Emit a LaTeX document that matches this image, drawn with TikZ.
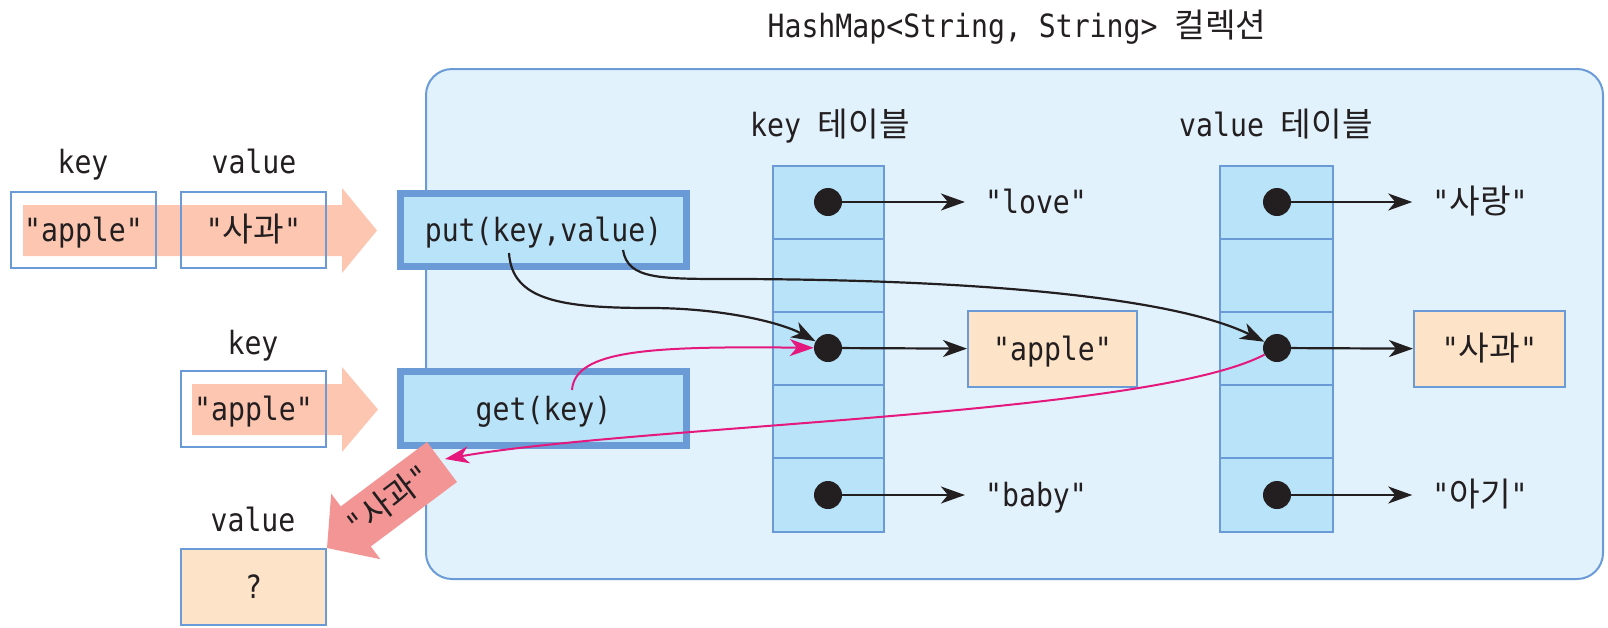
\documentclass[tikz,border=0pt]{standalone}
\usepackage{fontspec}
\setmonofont{DejaVu Sans Mono}[FakeStretch=0.88]
\newfontfamily\krfont{Noto Sans CJK KR}[Scale=1.04]
\newcommand\kt[1]{{\krfont #1}}
\usetikzlibrary{arrows.meta}
\definecolor{ink}{HTML}{231F20}
\definecolor{bord}{HTML}{6A9BD6}
\definecolor{cont}{HTML}{E1F2FC}
\definecolor{cell}{HTML}{B8E3F8}
\definecolor{peach}{HTML}{FDE4C8}
\definecolor{salmon}{HTML}{FCC6B1}
\definecolor{redarr}{HTML}{F39595}
\definecolor{pinkc}{HTML}{E5187E}
\begin{document}
\begin{tikzpicture}[x=1pt,y=-1pt,
  txt/.style={inner sep=0pt, text height=23pt, text depth=0pt, text=ink, font=\ttfamily\fontsize{32}{36}\selectfont},
  thinbox/.style={draw=bord, line width=2pt, inner sep=0pt},
  method/.style={draw=bord, fill=cell, line width=7pt, inner sep=0pt},
  dot/.style={circle, fill=ink, inner sep=0pt, minimum size=28pt},
  tipst/.style={-{Stealth[length=24pt,width=17pt,inset=7pt]}},
  blk/.style={tipst, draw=ink, line width=2.2pt},
  pnk/.style={tipst, draw=pinkc, line width=2pt}]
\useasboundingbox (0,0) rectangle (1608,627);

% container
\draw[draw=bord, fill=cont, line width=2pt, rounded corners=26pt] (426,69) rectangle (1603,579);

% tables
\node[thinbox, fill=cell, minimum width=111pt, minimum height=366pt] (ktab) at (828.5,349) {};
\node[thinbox, fill=cell, minimum width=113pt, minimum height=366pt] (vtab) at (1276.5,349) {};
\foreach \yy in {239,312,385,458}{
  \draw[bord, line width=2pt] (773,\yy) -- (884,\yy);
  \draw[bord, line width=2pt] (1220,\yy) -- (1333,\yy);
}

% big light arrows
\fill[salmon] (23,205) -- (342,205) -- (342,188) -- (377,230.5) -- (342,273) -- (342,256) -- (23,256) -- cycle;
\fill[salmon] (192,384) -- (342,384) -- (342,367) -- (378,409.5) -- (342,452) -- (342,435) -- (192,435) -- cycle;

% left boxes
\node[thinbox, minimum width=145pt, minimum height=76pt] (kbox1) at (83.5,230) {};
\node[thinbox, minimum width=145pt, minimum height=76pt] (vbox1) at (253.5,230) {};
\node[thinbox, minimum width=145pt, minimum height=76pt] (kbox2) at (253.5,409) {};
\node[thinbox, fill=peach, minimum width=145pt, minimum height=76pt] (rbox) at (253.5,587) {};

% method boxes
\node[method, minimum width=286pt, minimum height=73pt] (putbox) at (543.5,230) {};
\node[method, minimum width=286pt, minimum height=74pt] (getbox) at (543.5,408.5) {};

% result arrow
\fill[redarr] (427,442) -- (340.8,506.4) -- (331.2,493.6) -- (327,548) -- (380.4,559.2) -- (370.8,546.4) -- (457,482) -- cycle;
\node[txt, rotate=37] (redtxt) at (389,501) {"\kt{사과}"};

% value boxes in tables
\node[thinbox, fill=peach, minimum width=169pt, minimum height=76pt] (kapple) at (1052.5,349) {};
\node[thinbox, fill=peach, minimum width=151pt, minimum height=76pt] (vsagwa) at (1489.5,349) {};

% texts
\node[txt] (title) at (1017,26) {HashMap<String, String> \kt{컬렉션}};
\node[txt] (lkey1) at (83,162) {key};
\node[txt] (lval1) at (254,162) {value};
\node[txt] (lkey2) at (253,343) {key};
\node[txt] (lval2) at (253,520) {value};
\node[txt] at (kbox1) {"apple"};
\node[txt] at (vbox1) {"\kt{사과}"};
\node[txt] at (kbox2) {"apple"};
\node[txt] at (rbox) {?};
\node[txt] (puttxt) at (putbox) {put(key,value)};
\node[txt] (gettxt) at (getbox) {get(key)};
\node[txt] (ktabl) at (830,125) {key \kt{테이블}};
\node[txt] (vtabl) at (1276,125) {value \kt{테이블}};
\node[txt] (klove) at (1036,202) {"love"};
\node[txt] (kbaby) at (1036,495) {"baby"};
\node[txt] at (kapple) {"apple"};
\node[txt] (vsarang) at (1480,202) {"\kt{사랑}"};
\node[txt] (vagi) at (1480,495) {"\kt{아기}"};
\node[txt] at (vsagwa) {"\kt{사과}"};

% dots
\node[dot] (kd1) at (828,202) {};
\node[dot] (kd2) at (828,348) {};
\node[dot] (kd3) at (828,495) {};
\node[dot] (vd1) at (1277,202) {};
\node[dot] (vd2) at (1277,348) {};
\node[dot] (vd3) at (1277,495) {};

% dot arrows
\draw[blk, shorten >=20pt] (kd1) -- (klove);
\draw[blk] (kd2) -- (kapple);
\draw[blk, shorten >=20pt] (kd3) -- (kbaby);
\draw[blk, shorten >=20pt] (vd1) -- (vsarang);
\draw[blk] (vd2) -- (vsagwa);
\draw[blk, shorten >=20pt] (vd3) -- (vagi);

% curves
\coordinate (putk) at (509,253);
\coordinate (putv) at (623,250);
\coordinate (getk) at (572,390);
\coordinate (pinkend) at (445,459);
\draw[blk] (putk) .. controls (512,300) and (560,308) .. (650,308) .. controls (720,308) and (780,322) .. (kd2);
\draw[blk] (putv) .. controls (628,280) and (660,279) .. (740,279) .. controls (1000,280) and (1180,300) .. (vd2);
\draw[pnk] (getk) .. controls (575,350) and (650,346) .. (kd2);
\draw[pnk] (vd2) .. controls (1150,415) and (640,425) .. (pinkend);
\end{tikzpicture}
\end{document}
